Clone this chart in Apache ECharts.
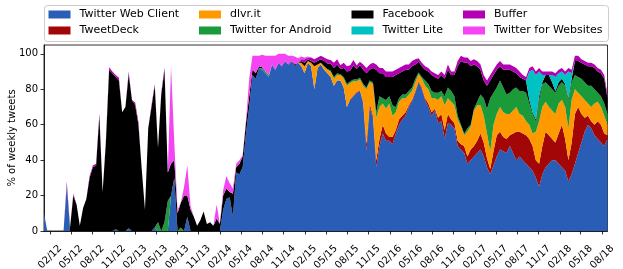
<!DOCTYPE html>
<html><head><meta charset="utf-8">
<script src="https://cdn.jsdelivr.net/npm/echarts@6/dist/echarts.min.js"></script>
<style>html,body{margin:0;padding:0;background:#fff}#c{width:623px;height:269px}</style>
</head><body><div id="c"></div>
<script>
// sampling: one value every 14 days starting 2012-01-06 (day 5 counted from 2012-01-01)
const startDay = 5;
const stepDays = 14;
const tickLabels = ['02/12','05/12','08/12','11/12','02/13','05/13','08/13','11/13','02/14','05/14','08/14','11/14',
  '02/15','05/15','08/15','11/15','02/16','05/16','08/16','11/16','02/17','05/17','08/17','11/17','02/18','05/18','08/18'];
const seriesNames = ['Twitter Web Client','TweetDeck','dlvr.it','Twitter for Android','Facebook','Twitter Lite','Buffer','Twitter for Websites'];

const twitterWebClient = [
10,0,0,0,0,0,0,26,0,0,
0,0,0,0,0,0,0,0,0,0,
0,0,1,0,0,0,1.5,0,0,0,
0,0,0,0,2,0,0,0,0,20,
30,0,0,0,8,0,0,0,0,0,
0,0,0,0,0,12,18,19,8,33,
32,36,55,70,88,86,92,91,89,87,
94,91,95,93,96,94,96,93,95,93,
89,95,93,80,92,94,91,89,87,82,
85,85,81,70,74,76,78,79,72,45,
70,64,36,48,55,51,51,49,55,60,
63,65,70,73,78,84,80,74,70,65,
68,61,62,52,61,60,58,48,46,44,
38,40,42,44,46,42,36,32,37,42,
46,45,44,48,44,40,42,40,38,36,
34,30,25,32,36,38,40,40,38,36,
34,28,32,38,44,50,56,60,58,54,
52,50,48,52];
const tweetDeck = [
0,0,0,0,0,0,0,0,0,0,
0,0,0,0,0,0,0,0,0,0,
0,0,0,0,0,0,0,0,0,0,
0,0,0,0,0,0,0,0,0,0,
0,0,0,0,0,0,0,0,0,0,
0,0,0,0,0,0,0,0,0,0,
0,0,0,0,0,0,0,0,0,0,
0,0,0,0,0,0,0,0,0,0,
0,0,0,0,0,0,0,0,0,0,
0,0,0,0,0.5,0.5,0.5,0.5,1,4,
2,1,4,4,5,4,2,4,2,3,
2,2,1,1,1,0.5,1,1,2,2,
1,3,4,5,5,3,3,3,3,4,
4,6,6,7,9,8,5,3,8,12,
10,8,8,6,11,16,14,15,16,16,
14,10,13,16,20,16,12,10,17,24,
18,12,18,28,26,16,8,5,4,6,
10,10,7,2];
const dlvrIt = [
0,0,0,0,0,0,0,0,0,0,
0,0,0,0,0,0,0,0,0,0,
0,0,0,0,0,0,0,0,0,0,
0,0,0,0,0,0,0,0,0,0,
0,0,0,0,0,0,0,0,0,0,
0,0,0,0,0,0,0,0,0,0,
0,0,0,0,0,0,0,0,0,0,
0,0,0,0,0,0,0,0,0,2,
4,1,2,13,2,1,2,2,3,4,
3,3,5,12,9,8,6,6,9,31,
12,18,24,18,12,14,19,12,10,10,
10,8,6,5,5,4,5,7,8,8,
6,10,10,14,9,10,10,12,10,6,
14,13,20,20,16,15,14,10,15,12,
14,14,14,12,13,14,10,10,8,8,
7,16,24,22,17,16,16,16,17,14,
18,18,24,14,8,10,10,7,8,12,
11,10,10,6];
const twitterForAndroid = [
0,0,0,0,0,0,0,0,0,0,
0,0,0,0,0,0,0,0,0,0,
0,0,0,0,0,0,0,0,0,0,
0,0,0,0,0,5,0,5,17,0,
0,0,2,0,0,0,0,0,0,0,
0,0,0,0,0,0,0,0,0,0,
0,0,0,0,0,0,0,1,1,1,
0,0,0,0,0,0,0,0,0,0,
0,0,0,0,0,0,0,0.5,0.5,1,
1,0.5,1,1,1,1,1,1,1,1,
1,1,3,6,3,5,4,6,3,2,
2,2,2,2,2,1,1,3,3,4,
3,4,3,5,6,6,5,2,1,1,
2,1,1,2,6,10,14,30,18,15,
15,14,11,12,12,11,13,14,16,12,
11,6,12,13,11,12,12,12,10,10,
12,16,10,8,9,10,10,10,12,8,
5,6,7,6];
const facebook = [
0,0,0,0,0,0,0,0,2,20,
15,3,13,18,30,36,37,65,22,50,
91,89,86,85,67,70,87,74,71,60,
35,12,58,70,80,42,77,86,16,18,
10,10,14,20,12,12,8,3,6,11,
4,5,3,7,4,8,6,3,13,3,
6,6,6,6,3,3,1,0.5,0,0,
0,0,0,0,0,0,0,1,0,1,
2,1,1,2,2,2,3,3,4,5,
5,3,5,7,6,8,6,7,8,8,
6,8,24,13,14,13,11,16,18,14,
13,14,12,12,8,6,6,6,7,9,
9,8,9,10,10,9,12,28,36,40,
37,33,25,20,14,10,13,10,10,10,
8,10,14,13,10,8,8,7,7,2,
1,1,2,1,4,6,4,1,2,2,
1,1,2,8,9,9,10,11,11,12,
12,13,14,9];
const twitterLite = [
0,0,0,0,0,0,0,0,0,0,
0,0,0,0,0,0,0,0,0,0,
0,0,0,0,0,0,0,0,0,0,
0,0,0,0,0,0,0,0,0,0,
0,0,0,0,0,0,0,0,0,0,
0,0,0,0,0,0,0,0,0,0,
0,0,0,0,0,0,0,0,0,0,
0,0,0,0,0,0,0,0,0,0,
0,0,0,0,0,0,0,0,0,0,
0,0,0,0,0,0,0,0,0,0,
0,0,0,0,0,0,0,0,0,0,
0,0,0,0,0,0,0,0,0,0,
0,0,0,0,0,0,0,0,0,0,
0,0,0,0,0,0,0,0,0,0,
0,0,0,0,0,0,0,0,0,16,
24,25,14,4,0,0,4,8,5,4,
5,15,3,0,0,0,0,0,0,0,
0,0,0,0];
const buffer = [
0,0,0,0,0,0,0,2,0,1,
0,0,0,0,1,1,1,1.5,0,1,
1.5,1,1,1.5,0,0,1.5,0,1.5,1.5,
0,0,0,1,1,0,1,1.5,0,0,
0,0,0,0,0,0,0,0,0,0,
0,0,0,0,0,0,0,0,0,0,
0,0,0,0,0,0,0,0,0,0,
0,0,0,0,0,0,0,0,0,1,
2,1,2,2,2,2,2,2.5,2,3,
3,2,3,3,3,3,2,2,3,3,
3,3,3,3,3,3,3,3,3,3,
3,3,3,3,3,2,2,2,2,2,
2,2,2,2,3,2,2,3,3,3,
3,3,3,3,3,3,3,3,3,3,
3,3,3,3,3,3,3,2,2,2,
2,2,2,2,2,2,2,2,2,2,
2,2,2,3,3,2,2,2,2,2,
2,2,2,2];
const twitterForWebsites = [
0,0,0,0,0,0,0,0,0,0,
0,0,0,0,0,0,0,0,0,0,
0,0,0,0,0,0,0,0,0,0,
0,0,0,0,0,0,0,0,0,55,
10,2,0,5,17,2,0,0,0,0,
0,0,0,8,0,3,7,5,3,2,
2,1,1,10,8,10,6,7,9,11,
5,8,5,7,4,5,3,4.5,2.5,1.5,
1,0.5,0,0,0,0,0,0,0,0,
0,0,0,0,0,0,0,0,0,0,
0,0,0,0,0,0,0,0,0,0,
0,0,0,0,0,0,0,0,0,0,
0,0,0,0,0,0,0,0,0,0,
0,0,0,0,0,0,0,0,0,0,
0,0,0,0,0,0,0,0,0,0,
0,0,0,0,0,0,0,0,0,0,
0,0,0,0,0,0,0,0,0,0,
0,0,0,0];

const allValues = [twitterWebClient, tweetDeck, dlvrIt, twitterForAndroid, facebook, twitterLite, buffer, twitterForWebsites];
const colors = ['#2a5db5','#a30606','#ff9900','#1b9a3a','#000000','#00c2c2','#b300b3','#f545f2'];
const N = twitterWebClient.length;
allValues.forEach((a, k) => { if (a.length !== N) throw new Error('length mismatch ' + seriesNames[k] + ' ' + a.length); });

const DAY = 86400000, BASE = Date.UTC(2012, 0, 1);
// category per sample (day number since 2012-01-01)
const sampleDays = twitterWebClient.map((_, i) => String(startDay + i * stepDays));
function labelDay(lbl) {
  const m = parseInt(lbl.slice(0, 2), 10), y = 2000 + parseInt(lbl.slice(3), 10);
  return (Date.UTC(y, m - 1, 1) - BASE) / DAY;
}
const tickDays = tickLabels.map(labelDay);
const labelByDay = {};
tickDays.forEach((d, i) => labelByDay[d] = tickLabels[i]);

const FONT = 'DejaVu Sans';
const legendPos = [[48.5, 9], [48.5, 25], [199, 9], [199, 25], [351.5, 9], [351.5, 25], [463, 9], [463, 25]];

const chart = echarts.init(document.getElementById('c'), null, {renderer: 'canvas'});
chart.setOption({
  animation: false,
  backgroundColor: '#fff',
  graphic: [{type: 'rect', z: 1, shape: {x: 44.5, y: 5.5, width: 564, height: 36, r: 3},
    style: {fill: '#fff', stroke: '#cccccc', lineWidth: 1}}],
  legend: seriesNames.map((n, k) => ({
    data: [n], left: legendPos[k][0], top: legendPos[k][1], padding: 0, itemGap: 0,
    itemWidth: 22, itemHeight: 8, icon: 'rect', selectedMode: false, z: 5,
    textStyle: {fontFamily: FONT, fontSize: 11, color: '#000', padding: [0, 0, 0, 4]}
  })),
  grid: {left: 44, right: 15.5, top: 45, bottom: 38, show: true, borderColor: '#000', borderWidth: 0.8,
    containLabel: false, outerBoundsMode: 'none'},
  xAxis: [{
    type: 'category', data: sampleDays, boundaryGap: false, show: false
  }, {
    type: 'value', min: startDay, max: startDay + (N - 1) * stepDays, position: 'bottom',
    splitLine: {show: false},
    axisLine: {lineStyle: {color: '#000', width: 0.8}},
    axisTick: {show: true, length: 3.5, lineStyle: {color: '#000', width: 0.8}, customValues: tickDays},
    axisLabel: {customValues: tickDays, rotate: 45, align: 'center', verticalAlign: 'middle', margin: 26,
      fontFamily: FONT, fontSize: 10, color: '#000', hideOverlap: false,
      formatter: v => labelByDay[v] || ''}
  }],
  yAxis: {
    type: 'value', min: 0, max: 105, interval: 20,
    name: '% of weekly tweets', nameLocation: 'middle', nameGap: 27, nameRotate: 90, nameMoveOverlap: false,
    nameTextStyle: {fontFamily: FONT, fontSize: 10, color: '#000'},
    splitLine: {show: false},
    axisLine: {show: true, lineStyle: {color: '#000', width: 0.8}},
    axisTick: {show: true, length: 3.5, lineStyle: {color: '#000', width: 0.8}},
    axisLabel: {fontFamily: FONT, fontSize: 10, color: '#000', margin: 6}
  },
  series: seriesNames.map((n, k) => ({
    name: n, type: 'line', stack: 'all', symbol: 'none', showSymbol: false, xAxisIndex: 0,
    data: allValues[k],
    lineStyle: {width: 0}, itemStyle: {color: colors[k]},
    areaStyle: {color: colors[k], opacity: 1}, z: 2
  }))
});
</script></body></html>
